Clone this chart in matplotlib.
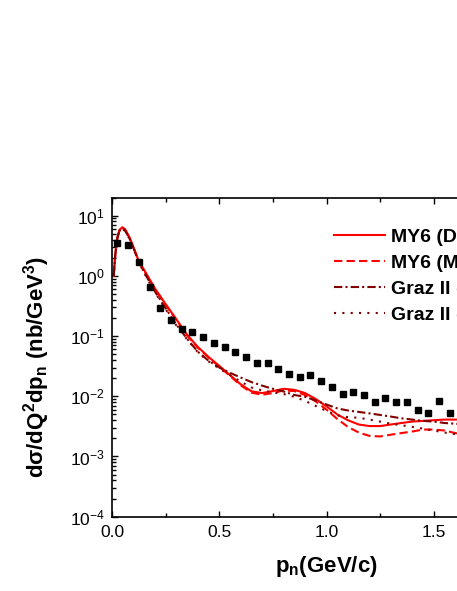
import numpy as np
import matplotlib
matplotlib.use("Agg")
import matplotlib.pyplot as plt
from matplotlib.ticker import LogLocator, MultipleLocator, NullFormatter

plt.rcParams['font.family'] = ['Liberation Sans', 'DejaVu Sans']
plt.rcParams['mathtext.fontset'] = 'custom'
plt.rcParams['mathtext.rm'] = 'Liberation Sans'
plt.rcParams['mathtext.bf'] = 'Liberation Sans:bold'
plt.rcParams['mathtext.it'] = 'Liberation Sans:italic'

# experimental points
p_data = [0.025, 0.075, 0.125, 0.175, 0.225, 0.275, 0.325, 0.375, 0.425, 0.475,
          0.525, 0.575, 0.625, 0.675, 0.725, 0.775, 0.825, 0.875, 0.925, 0.975,
          1.025, 1.075, 1.125, 1.175, 1.225, 1.275, 1.325, 1.375, 1.425, 1.475,
          1.525, 1.575]
xs_data = [3.51, 3.29, 1.67, 0.66, 0.29, 0.183, 0.133, 0.115, 0.096, 0.0764,
           0.0656, 0.0541, 0.0442, 0.0355, 0.0355, 0.0282, 0.0233, 0.0205, 0.0228, 0.0179,
           0.0140, 0.0108, 0.0120, 0.0103, 0.00794, 0.00926, 0.00807, 0.00807, 0.00593, 0.00529,
           0.00826, 0.00531]

# theory curves
p_th = [0.008, 0.015, 0.025, 0.035, 0.048, 0.06, 0.08, 0.10, 0.125, 0.15,
        0.2, 0.25, 0.3, 0.35, 0.4, 0.45, 0.5, 0.55, 0.6, 0.65,
        0.7, 0.75, 0.8, 0.85, 0.9, 0.95, 1.0, 1.05, 1.1, 1.15,
        1.2, 1.25, 1.3, 1.35, 1.4, 1.45, 1.5, 1.55, 1.6, 1.65]
my6_d = [1.0, 2.2, 4.3, 5.8, 6.4, 6.0, 4.5, 3.0, 1.75, 1.25,
         0.62, 0.34, 0.19, 0.105, 0.066, 0.045, 0.032, 0.0225, 0.0158, 0.0121,
         0.0113, 0.0122, 0.0133, 0.0128, 0.0113, 0.0090, 0.0068, 0.0050, 0.0040, 0.0034,
         0.0032, 0.0032, 0.0034, 0.0036, 0.0038, 0.0039, 0.0040, 0.0041, 0.0041, 0.0041]
my6_m = [1.0, 2.2, 4.3, 5.8, 6.3, 5.9, 4.4, 2.95, 1.72, 1.22,
         0.60, 0.33, 0.185, 0.102, 0.064, 0.044, 0.031, 0.0218, 0.0152, 0.0115,
         0.0106, 0.0113, 0.0125, 0.0122, 0.0105, 0.0082, 0.0060, 0.0042, 0.0031, 0.0025,
         0.0022, 0.00215, 0.0023, 0.00245, 0.0026, 0.0028, 0.0028, 0.0027, 0.00245, 0.0023]
graz_d = [1.0, 2.2, 4.2, 5.6, 6.1, 5.7, 4.3, 2.9, 1.7, 1.15,
          0.55, 0.29, 0.155, 0.09, 0.055, 0.039, 0.030, 0.0245, 0.0205, 0.0172,
          0.0150, 0.0133, 0.0120, 0.0105, 0.0098, 0.0085, 0.0073, 0.0063, 0.0058, 0.0055,
          0.0052, 0.0049, 0.0046, 0.0043, 0.0041, 0.0039, 0.0038, 0.0036, 0.0035, 0.0034]
graz_m = [1.0, 2.2, 4.2, 5.6, 6.0, 5.6, 4.2, 2.85, 1.65, 1.12,
          0.53, 0.28, 0.15, 0.088, 0.054, 0.038, 0.029, 0.0225, 0.0175, 0.0140,
          0.0125, 0.0116, 0.0109, 0.0098, 0.0084, 0.0069, 0.0057, 0.0048, 0.0045, 0.0044,
          0.0041, 0.0038, 0.0035, 0.0033, 0.0031, 0.0029, 0.0027, 0.0025, 0.00235, 0.0023]

labels = ["MY6 (Dirac)", "MY6 (Minkowski)", "Graz II (Dirac)", "Graz II (Minkowski)"]

fig = plt.figure(figsize=(4.57, 5.91), dpi=100)
ax = fig.add_axes([112/457, 1 - 516.7/591, (541 - 112)/457, (516.7 - 197.5)/591])

dred = '#800000'
ax.plot(p_th, my6_d, color='red', lw=1.5, label=labels[0])
ax.plot(p_th, my6_m, color='red', lw=1.5, dashes=(4, 2), label=labels[1])
ax.plot(p_th, graz_d, color=dred, lw=1.5, dashes=(4, 1.5, 1, 1.5), label=labels[2])
ax.plot(p_th, graz_m, color=dred, lw=1.5, dashes=(1, 3), label=labels[3])
ax.plot(p_data, xs_data, 's', color='black', ms=5, mec='black')

ax.set_yscale('log')
ax.set_xlim(0, 2.0)
ax.set_ylim(1e-4, 20)
ax.xaxis.set_major_locator(MultipleLocator(0.5))
ax.xaxis.set_minor_locator(MultipleLocator(0.25))
ax.yaxis.set_major_locator(LogLocator(base=10, numticks=10))
ax.yaxis.set_minor_locator(LogLocator(base=10, subs=np.arange(2, 10), numticks=20))
ax.yaxis.set_minor_formatter(NullFormatter())

ax.tick_params(which='both', direction='in', top=True, right=True, width=1.0)
ax.tick_params(which='major', length=4.5)
ax.tick_params(which='minor', length=2.8)
ax.tick_params(axis='x', labelsize=12.5, pad=6)
ax.tick_params(axis='y', labelsize=12.5, pad=5)
for s in ax.spines.values():
    s.set_linewidth(1.2)

ax.set_xlabel(r'p$_\mathbf{n}$(GeV/c)', fontsize=16, fontweight='bold')
ax.set_ylabel(r'd$\mathbf{\sigma}$/dQ$^\mathbf{2}$dp$_\mathbf{n}$ (nb/GeV$^\mathbf{3}$)',
              fontsize=16, fontweight='bold')
ax.xaxis.set_label_coords(0.5, -0.117)
ax.yaxis.set_label_coords(-0.14, 0.47)

leg = ax.legend(loc='upper left', bbox_to_anchor=(334/457, 1 - 228/591),
                bbox_transform=fig.transFigure, frameon=False,
                prop={'weight': 'bold', 'size': 14}, handlelength=2.6,
                handletextpad=0.35, labelspacing=0.44, borderpad=0, borderaxespad=0)

fig.savefig('out.png', dpi=100)
